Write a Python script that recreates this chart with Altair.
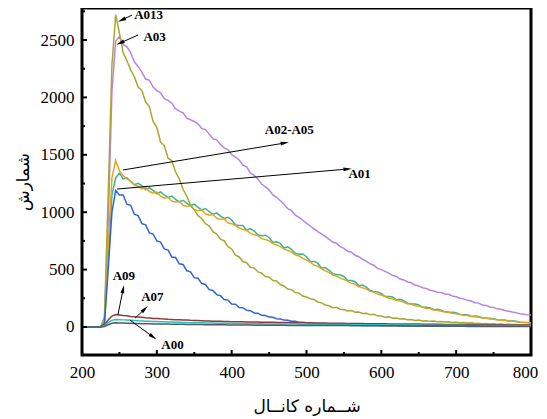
import math
import altair as alt
import pandas as pd

# ---------------- data ----------------
CH = list(range(200, 801, 5))
PRE = [0, 0, 0, 0, 0, 2]  # channels 200-225

A013 = PRE + [
    90, 1150, 2280, 2720, 2560, 2390, 2320, 2240, 2180, 2090,
    2060, 1960, 1920, 1790, 1740, 1610, 1580, 1470, 1450, 1350,
    1290, 1200, 1140, 1060, 1020, 970, 945, 900, 880, 830,
    810, 765, 750, 700, 680, 625, 610, 570, 560, 520,
    515, 480, 470, 440, 435, 405, 400, 370, 355, 330,
    325, 300, 295, 270, 262, 246, 240, 218, 210, 192,
    185, 168, 172, 155, 150, 140, 143, 128, 130, 118,
    120, 106, 110, 97, 95, 84, 88, 76, 78, 70,
    72, 63, 66, 57, 61, 52, 55, 49, 52, 45,
    47, 43, 46, 40, 41, 37, 39, 34, 36, 31,
    33, 29, 31, 27, 29, 24, 27, 22, 24, 21,
    22, 18, 20, 16, 17]

A03 = PRE + [
    60, 900, 2050, 2490, 2530, 2460, 2440, 2390, 2310, 2270,
    2220, 2160, 2150, 2090, 2060, 2040, 1990, 1975, 1950, 1900,
    1880, 1865, 1820, 1805, 1790, 1770, 1730, 1720, 1680, 1640,
    1630, 1590, 1560, 1545,
    1500, 1480, 1455, 1410, 1395, 1340, 1320, 1290, 1245, 1220,
    1195, 1150, 1130, 1100, 1070, 1030, 1015, 975, 955, 930,
    905, 880, 855, 830, 812, 790, 765, 740, 730, 700,
    685, 660, 652, 625, 612, 590, 572, 550, 538, 510,
    500, 485, 470, 450, 440, 418, 410, 392, 385, 365,
    358, 342, 335, 320, 314, 302, 300, 288, 285, 270,
    264, 250, 245, 232, 226, 212, 208, 192, 188, 175,
    170, 158, 154, 143, 138, 130, 125, 116, 112, 106, 104]

A02_A05_GREEN = PRE + [
    40, 600, 1150, 1300, 1340, 1290, 1300, 1268, 1240, 1252,
    1232, 1196, 1214, 1190, 1160, 1176, 1150, 1128, 1140, 1112,
    1090, 1104, 1080, 1056, 1070, 1042, 1020, 1032, 1004, 982,
    994, 966, 946, 956,
    932, 888, 884, 884, 843, 858, 836, 804, 796, 800,
    780, 738, 742, 728, 688, 698, 676, 642, 634, 636,
    612, 570, 570, 556, 514, 518, 496, 465, 458, 455,
    440, 405, 405, 394, 360, 365, 348, 318, 310, 306,
    292, 265, 266, 262, 238, 241, 230, 207, 203, 200,
    192, 173, 172, 168, 151, 154, 146, 132, 130, 129,
    124, 109, 107, 106, 94, 96, 91, 80, 78, 77,
    73, 63, 62, 61, 53, 54, 50, 43, 41, 40, 36]

A02_A05_ORANGE = PRE + [
    50, 700, 1300, 1450, 1360, 1320, 1290, 1270, 1236, 1226,
    1204, 1216, 1180, 1168, 1176, 1140, 1122, 1130, 1098, 1090,
    1096, 1062, 1050, 1058, 1024, 1012, 1020, 986, 974, 980,
    948, 936, 942, 908,
    900, 884, 862, 850, 842, 818, 804, 796, 770, 762,
    752, 726, 714, 702, 678, 668, 652, 628, 618, 598,
    582, 566, 540, 530, 506, 490, 476, 452, 444, 426,
    414, 400, 380, 372, 350, 342, 330, 310, 304, 286,
    278, 266, 250, 246, 232, 226, 216, 202, 198, 186,
    182, 172, 162, 160, 148, 146, 138, 130, 127, 120,
    116, 110, 102, 100, 92, 90, 85, 78, 76, 70,
    68, 63, 58, 56, 52, 50, 46, 42, 40, 37, 34]

A01 = PRE + [
    30, 500, 1000, 1190, 1150, 1150, 1070, 1060, 980, 970,
    900, 890, 820, 810, 750, 740, 680, 670, 610, 605,
    550, 545, 490, 480, 430, 425, 378, 370, 325, 318,
    282, 272, 240, 234, 200, 198, 170, 168, 145, 142,
    122, 120, 102, 100, 86, 84, 72, 70, 60, 58,
    50, 49, 42, 41, 36, 35, 31, 30, 27, 26,
    23, 22, 20, 20, 18, 17, 16, 16, 15, 14,
    13, 13, 12, 12, 11, 11, 10, 10, 10, 9,
    9, 9, 8, 8, 8, 8, 7, 7, 7, 7,
    7, 6, 6, 6, 6, 6, 6, 5, 5, 5,
    5, 5, 5, 5, 5, 4, 4, 4, 4, 4,
    4, 4, 4, 4, 4]

A09 = [0, 0, 0, 0, 0, 1,
       20, 60, 95, 108, 105, 100, 98, 92, 90, 86, 84, 80, 78, 75, 74, 71, 70, 67, 66, 64,
       63, 61, 60, 58, 57, 56, 55, 53, 52, 51, 50, 49, 48, 47,
       46, 46, 45, 45, 44, 44, 43, 43, 42, 42, 41, 41, 40, 40, 39, 39, 38, 38, 37, 37,
       36, 36, 35, 35, 34, 34, 33, 33, 33, 32, 32, 31, 31, 31, 30, 30, 29, 29, 29, 28,
       28, 28, 27, 27, 27, 26, 26, 26, 25, 25, 25, 24, 24, 24, 23, 23, 23, 22, 22, 22,
       22, 21, 21, 21, 21, 20, 20, 20, 20, 19, 19, 19, 19, 19, 18, 18, 18, 18, 18, 18, 18]

A07 = [0, 0, 0, 0, 0, 1,
       12, 38, 58, 65, 64, 62, 60, 58, 56, 54, 53, 51, 50, 48, 47, 46, 45, 44, 43, 42,
       41, 40, 39, 38, 37, 37, 36, 35, 35, 34, 33, 33, 32, 32,
       31, 31, 30, 30, 29, 29, 29, 28, 28, 27, 27, 27, 26, 26, 26, 25, 25, 25, 24, 24,
       24, 23, 23, 23, 22, 22, 22, 22, 21, 21, 21, 21, 20, 20, 20, 20, 19, 19, 19, 19,
       19, 18, 18, 18, 18, 18, 17, 17, 17, 17, 17, 16, 16, 16, 16, 16, 16, 15, 15, 15,
       15, 15, 15, 14, 14, 14, 14, 14, 14, 14, 13, 13, 13, 13, 13, 13, 13, 12, 12, 12, 12]

A00 = [0, 0, 0, 0, 0, 0,
       5, 20, 32, 36, 35, 34, 33, 32, 31, 30, 29, 28, 28, 27, 26, 26, 25, 25, 24, 24,
       23, 23, 22, 22, 21, 21, 21, 20, 20, 20, 19, 19, 19, 18,
       18, 18, 17, 17, 17, 17, 16, 16, 16, 16, 15, 15, 15, 15, 15, 14, 14, 14, 14, 14,
       13, 13, 13, 13, 13, 13, 12, 12, 12, 12, 12, 12, 11, 11, 11, 11, 11, 11, 11, 10,
       10, 10, 10, 10, 10, 10, 10, 9, 9, 9, 9, 9, 9, 9, 9, 9, 8, 8, 8, 8,
       8, 8, 8, 8, 8, 8, 8, 7, 7, 7, 7, 7, 7, 7, 7, 7, 7, 7, 7, 7, 7]

SERIES = ["A03", "A02-A05 g", "A02-A05 o", "A013", "A01", "A09", "A07", "A00"]
VALUES = [A03, A02_A05_GREEN, A02_A05_ORANGE, A013, A01, A09, A07, A00]
COLORS = ["#b884e4", "#3cb48c", "#e6a420", "#a8a830", "#2f64d6", "#8e3a3a", "#22c2c4", "#555a66"]

# annotations: label, text position, arrow tail, arrow tip (channel, count)
ANN_LABEL = ["A013", "A03", "A02-A05", "A01", "A09", "A07", "A00"]
ANN_TEXT_CH = [289, 297, 477, 571, 256, 294, 321]
ANN_TEXT_VAL = [2718, 2526, 1716, 1333, 444, 261, -157]
ARR_TAIL_CH = [267, 275, 255, 247, 248, 271, 264]
ARR_TAIL_VAL = [2718, 2544, 1368, 1202, 105, 78, 61]
ARR_TIP_CH = [253, 251, 471, 555, 255, 284, 295]
ARR_TIP_VAL = [2674, 2474, 1603, 1376, 331, 157, -87]

X_MAJOR = [200, 300, 400, 500, 600, 700, 800]
X_MINOR = [250, 350, 450, 550, 650, 750]
Y_MAJOR = [0, 500, 1000, 1500, 2000, 2500]
Y_MINOR = [250, 750, 1250, 1750, 2250, 2750]

X_DOMAIN = [200, 800]
Y_DOMAIN = [-244, 2779]

# ---------------- build ----------------
W, H = 449, 347
for v in VALUES:
    assert len(v) == len(CH), len(v)

rows = []
for name, vals in zip(SERIES, VALUES):
    for c, v in zip(CH, vals):
        rows.append({"ch": c, "val": v, "series": name})
df = pd.DataFrame(rows)

xs = alt.Scale(domain=X_DOMAIN, nice=False, zero=False, padding=0)
ys = alt.Scale(domain=Y_DOMAIN, nice=False, zero=False, padding=0)

x_axis = alt.Axis(values=X_MAJOR, title="شــماره کانــال", ticks=False, domain=False, grid=False,
                  labelFont="Liberation Serif", labelFontSize=17, labelColor="black", labelPadding=9,
                  labelFlush=False,
                  labelOffset={"expr": "datum.value == %d ? -6 : 0" % X_DOMAIN[1]},
                  titleFont="DejaVu Sans", titleFontSize=17, titleFontWeight="normal", titleColor="black",
                  titlePadding=18, format="d")
y_axis = alt.Axis(values=Y_MAJOR, title="شمارش", ticks=False, domain=False, grid=False,
                  labelFont="Liberation Serif", labelFontSize=17, labelColor="black", labelPadding=8,
                  labelFlush=False,
                  titleFont="DejaVu Sans", titleFontSize=17, titleFontWeight="normal", titleColor="black",
                  titlePadding=8, format="d")

X = lambda f: alt.X(f, scale=xs, axis=x_axis)
Y = lambda f: alt.Y(f, scale=ys, axis=y_axis)

lines = alt.Chart(df).mark_line(strokeWidth=1.5, clip=True).encode(
    x=X("ch:Q"),
    y=Y("val:Q"),
    color=alt.Color("series:N", scale=alt.Scale(domain=SERIES, range=COLORS), legend=None),
    order=alt.Order("ch:Q"),
)

def xticks(vals, length):
    d = pd.DataFrame({"ch": vals})
    return alt.Chart(d).mark_rule(color="black", strokeWidth=2).encode(
        x=X("ch:Q"), y=alt.value(H), y2=alt.value(H - length))

def yticks(vals, length):
    d = pd.DataFrame({"val": vals})
    return alt.Chart(d).mark_rule(color="black", strokeWidth=2).encode(
        y=Y("val:Q"), x=alt.value(0), x2=alt.value(length))

sx = W / (X_DOMAIN[1] - X_DOMAIN[0])
sy = H / (Y_DOMAIN[1] - Y_DOMAIN[0])
angles = []
for tc, tv, pc, pv in zip(ARR_TAIL_CH, ARR_TAIL_VAL, ARR_TIP_CH, ARR_TIP_VAL):
    dx = (pc - tc) * sx
    dy = -(pv - tv) * sy
    angles.append(math.degrees(math.atan2(dx, -dy)) % 360)

ann = pd.DataFrame({
    "label": ANN_LABEL, "ch": ANN_TEXT_CH, "val": ANN_TEXT_VAL,
    "tailch": ARR_TAIL_CH, "tailval": ARR_TAIL_VAL, "tipch": ARR_TIP_CH, "tipval": ARR_TIP_VAL,
    "ang": angles,
})

arrows = alt.Chart(ann).mark_rule(color="black", strokeWidth=1).encode(
    x=X("tailch:Q"), y=Y("tailval:Q"), x2="tipch:Q", y2="tipval:Q")

heads = alt.Chart(ann).mark_point(
    shape="M0,-1 L0.45,1 L-0.45,1 Z", filled=True, color="black", opacity=1, size=70
).encode(
    x=X("tipch:Q"), y=Y("tipval:Q"),
    angle=alt.Angle("ang:Q", scale=None))

texts = alt.Chart(ann).mark_text(
    font="Liberation Serif", fontWeight="bold", fontSize=13, color="black", align="center", baseline="middle"
).encode(
    x=X("ch:Q"), y=Y("val:Q"),
    text="label:N")

chart = alt.layer(
    lines,
    xticks(X_MAJOR, 5), xticks(X_MINOR, 3), yticks(Y_MAJOR, 5), yticks(Y_MINOR, 3),
    arrows, heads, texts,
).properties(
    width=W, height=H, autosize="none", background="white",
    padding={"left": 74, "top": 0, "right": 8, "bottom": 64},
).configure_view(stroke="black", strokeWidth=3)

chart.save("out.html", embed_options={"renderer": "svg", "actions": False})
